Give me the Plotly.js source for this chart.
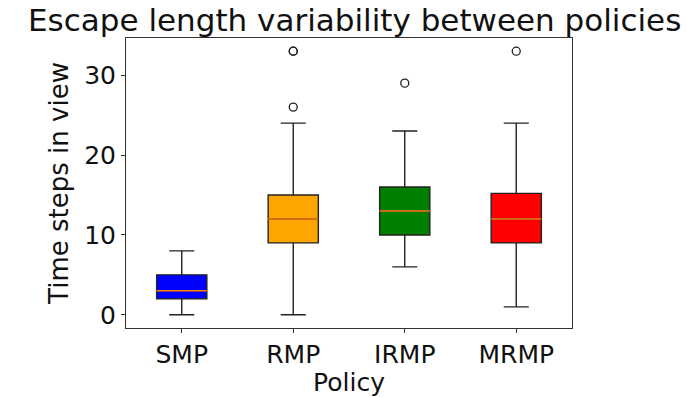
<!DOCTYPE html>
<html>
<head>
<meta charset="utf-8">
<script src="https://cdn.plot.ly/plotly-3.0.1.min.js"></script>
<style>html,body{margin:0;padding:0;background:#fff;}#chart{width:686px;height:397px;}</style>
</head>
<body>
<div id="chart"></div>
<script>
const categories = ["SMP", "RMP", "IRMP", "MRMP"];
const positions = [1, 2, 3, 4];
const q1 = [2, 9, 10, 9];
const medians = [3, 12, 13, 12];
const q3 = [5, 15, 16, 15.2];
const lowerWhisker = [0, 0, 6, 1];
const upperWhisker = [8, 24, 23, 24];
const outliers = [[], [26, 33, 33], [29], [33]];
const fillColors = ["blue", "orange", "green", "red"];
const yTicks = [0, 10, 20, 30];

const boxWidth = 0.45;
const traces = [];
categories.forEach((c, i) => {
  traces.push({
    type: "box",
    name: c,
    x: [positions[i]],
    q1: [q1[i]], median: [medians[i]], q3: [q3[i]],
    lowerfence: [lowerWhisker[i]], upperfence: [upperWhisker[i]],
    width: boxWidth,
    whiskerwidth: 0.5,
    fillcolor: fillColors[i],
    line: {color: "#222", width: 1.4},
    boxpoints: false,
    hoverinfo: "skip",
    showlegend: false
  });
  traces.push({
    type: "scatter", mode: "lines",
    x: [positions[i] - boxWidth / 2, positions[i] + boxWidth / 2],
    y: [medians[i], medians[i]],
    line: {color: "#ff7f0e", width: 1.5},
    hoverinfo: "skip", showlegend: false
  });
  if (outliers[i].length) {
    traces.push({
      type: "scatter", mode: "markers",
      x: outliers[i].map(() => positions[i]),
      y: outliers[i],
      marker: {symbol: "circle-open", size: 8, color: "#222", line: {width: 1.3}},
      hoverinfo: "skip", showlegend: false
    });
  }
});

const font = "DejaVu Sans, sans-serif";
const layout = {
  width: 686, height: 397,
  margin: {l: 126, r: 114, t: 38, b: 69},
  paper_bgcolor: "#fff", plot_bgcolor: "#fff",
  font: {family: font, color: "#111"},
  title: {text: "Escape length variability between policies", font: {size: 31, family: font, color: "#111"}, x: 0.517, xanchor: "center", y: 0.95, yanchor: "middle"},
  xaxis: {
    range: [0.5, 4.5], tickvals: positions, ticktext: categories,
    showline: true, mirror: true, linecolor: "#333", linewidth: 1,
    ticks: "outside", ticklen: 4, tickcolor: "#333",
    showgrid: false, zeroline: false,
    tickfont: {size: 25, family: font, color: "#111"},
    title: {text: "Policy", font: {size: 25, family: font, color: "#111"}, standoff: 2}
  },
  yaxis: {
    range: [-1.65, 34.65], tickvals: yTicks,
    showline: true, mirror: true, linecolor: "#333", linewidth: 1,
    ticks: "outside", ticklen: 4, tickcolor: "#333",
    showgrid: false, zeroline: false,
    tickfont: {size: 25, family: font, color: "#111"},
    title: {text: "Time steps in view", font: {size: 26, family: font, color: "#111"}, standoff: 8}
  },
  boxmode: "overlay",
  showlegend: false
};
Plotly.newPlot("chart", traces, layout, {staticPlot: true, displayModeBar: false});
</script>
</body>
</html>
